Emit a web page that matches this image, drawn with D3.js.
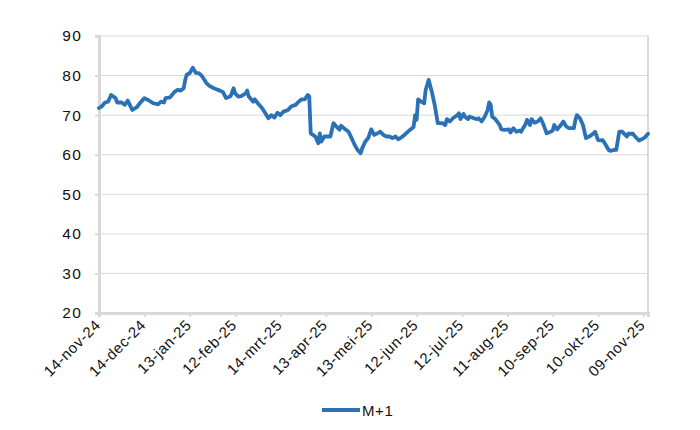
<!DOCTYPE html>
<html><head><meta charset="utf-8">
<script src="https://cdn.jsdelivr.net/npm/d3@7"></script>
<style>body{margin:0;background:#fff}svg{display:block}</style>
</head><body>
<svg id="c" width="700" height="430"></svg>
<script>
const seriesName = "M+1";
const dates = [
"2024-11-14","2024-11-16","2024-11-18","2024-11-20","2024-11-22","2024-11-25","2024-11-26","2024-11-29",
"2024-12-01","2024-12-03","2024-12-05","2024-12-06","2024-12-09","2024-12-11","2024-12-14","2024-12-17",
"2024-12-20","2024-12-23","2024-12-25","2024-12-27","2024-12-28","2024-12-31",
"2025-01-03","2025-01-05","2025-01-07","2025-01-09","2025-01-10","2025-01-11","2025-01-13","2025-01-15",
"2025-01-17","2025-01-19","2025-01-21","2025-01-22","2025-01-24","2025-01-26","2025-01-29","2025-01-31",
"2025-02-02","2025-02-04","2025-02-06","2025-02-09","2025-02-11","2025-02-12","2025-02-14","2025-02-16",
"2025-02-19","2025-02-20","2025-02-21","2025-02-24","2025-02-25","2025-02-27",
"2025-03-02","2025-03-04","2025-03-06","2025-03-08","2025-03-10","2025-03-12","2025-03-14","2025-03-16",
"2025-03-19","2025-03-21","2025-03-24","2025-03-26","2025-03-28","2025-03-30",
"2025-04-01","2025-04-02","2025-04-03","2025-04-06","2025-04-08","2025-04-09","2025-04-10","2025-04-12",
"2025-04-16","2025-04-18","2025-04-20","2025-04-22","2025-04-23","2025-04-26","2025-04-28","2025-04-30",
"2025-05-02","2025-05-04","2025-05-06","2025-05-07","2025-05-09","2025-05-11","2025-05-13","2025-05-15",
"2025-05-17","2025-05-19","2025-05-21","2025-05-23","2025-05-25","2025-05-27","2025-05-29","2025-05-31",
"2025-06-02","2025-06-04","2025-06-05","2025-06-08","2025-06-10","2025-06-11","2025-06-12","2025-06-13",
"2025-06-15","2025-06-17","2025-06-18","2025-06-20","2025-06-22","2025-06-24","2025-06-26","2025-06-29",
"2025-07-01","2025-07-02","2025-07-04","2025-07-06","2025-07-09","2025-07-10","2025-07-11","2025-07-13",
"2025-07-14","2025-07-16","2025-07-17","2025-07-20","2025-07-22","2025-07-23","2025-07-25","2025-07-27",
"2025-07-29","2025-07-30","2025-07-31",
"2025-08-01","2025-08-03","2025-08-06","2025-08-07","2025-08-09","2025-08-12","2025-08-13","2025-08-15",
"2025-08-17","2025-08-19","2025-08-20","2025-08-23","2025-08-24","2025-08-26","2025-08-27","2025-08-29",
"2025-08-31",
"2025-09-02","2025-09-04","2025-09-06","2025-09-08","2025-09-10","2025-09-11","2025-09-13","2025-09-15",
"2025-09-17","2025-09-19","2025-09-21","2025-09-24","2025-09-25","2025-09-26","2025-09-28","2025-09-30",
"2025-10-02","2025-10-05","2025-10-07","2025-10-08","2025-10-10","2025-10-12","2025-10-13","2025-10-15",
"2025-10-17","2025-10-18","2025-10-21","2025-10-22","2025-10-24","2025-10-26","2025-10-27","2025-10-29",
"2025-10-30",
"2025-11-02","2025-11-03","2025-11-06","2025-11-08","2025-11-10","2025-11-12"
];
const values = [
71.8,72.3,73.2,73.4,75.1,74.3,73.2,73.2,
72.6,73.7,72.1,71.3,72.0,73.0,74.3,73.7,
73.0,72.7,73.4,73.2,74.3,74.5,
75.9,76.4,76.2,76.8,78.9,80.2,80.6,82.0,
80.7,80.6,79.9,79.3,78.1,77.4,76.8,76.5,
76.2,75.8,74.3,74.8,76.8,75.5,74.7,74.8,
75.5,76.2,74.7,73.4,74.0,73.0,
71.7,70.5,69.2,70.0,69.4,70.6,70.0,70.9,
71.3,72.2,72.6,73.4,74.0,74.0,
75.1,74.8,65.4,64.6,62.9,65.4,63.3,64.6,
64.6,68.0,67.1,66.3,67.3,66.4,65.8,64.2,
62.5,61.2,60.4,61.6,63.3,64.2,66.4,65.0,
65.4,65.8,65.0,64.6,64.6,64.2,64.6,63.9,
64.4,65.0,65.4,66.4,67.0,70.0,68.8,74.0,
73.4,73.0,76.4,78.9,76.0,72.5,68.0,68.0,
67.5,69.0,68.4,69.2,70.0,70.5,69.0,70.3,
69.6,69.0,69.6,69.2,69.0,69.2,68.4,69.6,
71.3,73.2,72.6,
69.6,69.0,67.5,66.4,66.3,66.4,65.6,66.7,
65.8,66.1,65.8,67.7,68.8,67.5,69.0,68.1,
68.4,
69.2,67.5,65.4,65.7,66.1,67.5,66.4,67.3,
68.4,67.1,66.7,66.7,68.8,70.0,69.2,67.5,
64.2,64.8,65.4,65.8,63.7,63.6,63.7,62.5,
61.2,61.0,61.2,61.2,65.8,65.8,65.4,64.6,
65.3,
65.3,64.8,63.6,63.9,64.4,65.3
];
const yTicks = [20,30,40,50,60,70,80,90];
const xTickDates = ["2024-11-14","2024-12-14","2025-01-13","2025-02-12","2025-03-14","2025-04-13","2025-05-13",
  "2025-06-12","2025-07-12","2025-08-11","2025-09-10","2025-10-10","2025-11-09"];
const xTickLabels = ["14-nov-24","14-dec-24","13-jan-25","12-feb-25","14-mrt-25","13-apr-25","13-mei-25",
  "12-jun-25","12-jul-25","11-aug-25","10-sep-25","10-okt-25","09-nov-25"];
const xDomain = ["2024-11-14","2025-11-12"];

const parse = d3.utcParse("%Y-%m-%d");
const data = dates.map((d,i)=>({date:parse(d), value:values[i]}));

const L=99, R=648, T=36, B=313;
const svg = d3.select("#c");
const x = d3.scaleUtc().domain(xDomain.map(parse)).range([L,R]);
const y = d3.scaleLinear().domain([20,90]).range([B,T]);
const grey = "#d9d9d9";
const font = "'Liberation Sans', Arial, sans-serif";
const ink = "#111";

// gridlines
svg.append("g").selectAll("line").data(yTicks.filter(t=>t>20)).join("line")
  .attr("x1",L).attr("x2",R).attr("y1",d=>y(d)).attr("y2",d=>y(d))
  .attr("stroke",grey).attr("stroke-width",1);

// right border
svg.append("line").attr("x1",R).attr("x2",R).attr("y1",T).attr("y2",B)
  .attr("stroke",grey).attr("stroke-width",2);

// y axis
const yAxis = svg.append("g").attr("transform",`translate(${L},0)`)
  .call(d3.axisLeft(y).tickValues(yTicks).tickSize(4).tickPadding(13).tickFormat(d3.format("d")));
yAxis.select(".domain").attr("stroke",grey).attr("stroke-width",3);
yAxis.selectAll(".tick line").attr("stroke",grey).attr("stroke-width",2);
yAxis.selectAll(".tick text").attr("font-family",font).attr("font-size",15.5)
  .attr("letter-spacing",1.2).attr("fill",ink);

// x axis
const xAxis = svg.append("g").attr("transform",`translate(0,${B})`)
  .call(d3.axisBottom(x).tickValues(xTickDates.map(parse)).tickSize(4)
    .tickFormat((d,i)=>xTickLabels[i]));
xAxis.select(".domain").attr("stroke",grey).attr("stroke-width",3);
xAxis.selectAll(".tick line").attr("stroke",grey).attr("stroke-width",2);
xAxis.selectAll(".tick text").attr("font-family",font).attr("font-size",15)
  .attr("letter-spacing",0.6).attr("fill",ink)
  .attr("text-anchor","end").attr("dy",null).attr("y",null)
  .attr("transform","translate(2,13) rotate(-45)");

// line
svg.append("path").datum(data)
  .attr("fill","none").attr("stroke","#2a72b5").attr("stroke-width",3.8)
  .attr("stroke-linejoin","round").attr("stroke-linecap","round")
  .attr("d",d3.line().x(d=>x(d.date)).y(d=>y(d.value)));

// legend
const lg = svg.append("g").attr("transform","translate(322,410)");
lg.append("line").attr("x1",0).attr("x2",38).attr("y1",0).attr("y2",0)
  .attr("stroke","#2a72b5").attr("stroke-width",4);
lg.append("text").attr("x",40).attr("y",5.5).text(seriesName)
  .attr("font-family",font).attr("font-size",15).attr("letter-spacing",0.6).attr("fill",ink);
</script>
</body></html>
